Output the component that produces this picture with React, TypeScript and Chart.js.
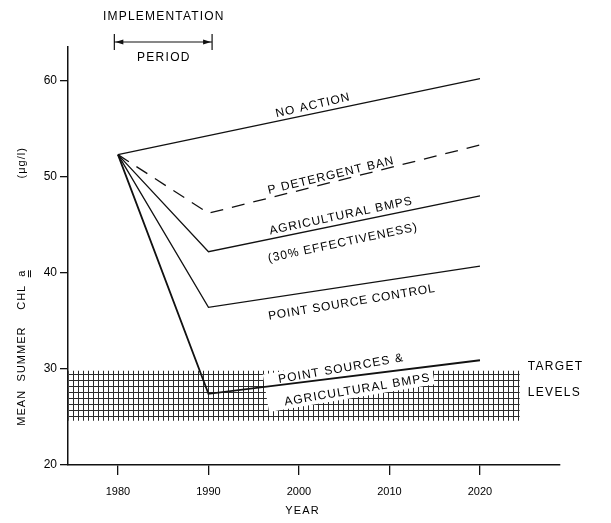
import { useEffect, useRef } from 'react';
import { Chart, registerables } from 'chart.js';

Chart.register(...registerables);

// ---- data ----
const xTicks = [1980, 1990, 2000, 2010, 2020];
const yTicks = [20, 30, 40, 50, 60];
const scenarioYears = [1980, 1990, 2020];
const noActionYears = [1980, 2020];
const noAction = [52.3, 60.2];
const detergentBan = [52.3, 46.2, 53.3];
const agriculturalBmps = [52.3, 42.2, 48.0];
const pointSourceControl = [52.3, 36.4, 40.7];
const pointSourcesAndBmps = [52.3, 27.4, 30.9];
const targetYears = [1974.5, 2024.4];
const targetHigh = [29.8, 29.8];
const targetLow = [24.6, 24.6];
const implementationPeriod = [1979.6, 1990.4];

const xMin = 1974.48;
const xMax = 2028.84;
const yMin = 20;
const yMax = 63.5;

const lineLabels = [
  { text: 'NO ACTION', x: 2001.5, y: 57.4, angle: -13, spacing: 1.1 },
  { text: 'P DETERGENT BAN', x: 2003.5, y: 50.1, angle: -13.5, spacing: 1.1 },
  { text: 'AGRICULTURAL BMPS', x: 2004.6, y: 45.9, angle: -12, spacing: 1.0 },
  { text: '(30% EFFECTIVENESS)', x: 2004.8, y: 43.1, angle: -12, spacing: 1.0 },
  { text: 'POINT SOURCE CONTROL', x: 2005.8, y: 36.9, angle: -9.5, spacing: 0.8 },
  { text: 'POINT SOURCES &', x: 2004.6, y: 30.0, angle: -10, spacing: 1.1 },
  { text: 'AGRICULTURAL BMPS', x: 2006.4, y: 27.8, angle: -9.5, spacing: 1.1 },
];

const FONT = '"Liberation Sans", Arial, sans-serif';
const INK = '#111111';
const TEXT = '#000000';

const pts = (xs: number[], ys: number[]) => xs.map((x, i) => ({ x, y: ys[i] }));

function drawText(ctx: CanvasRenderingContext2D, text: string, x: number, y: number, size: number, spacing: number, angle = 0) {
  ctx.save();
  ctx.translate(x, y);
  ctx.rotate((angle * Math.PI) / 180);
  ctx.font = `${size}px ${FONT}`;
  (ctx as any).letterSpacing = `${spacing}px`;
  ctx.fillStyle = TEXT;
  ctx.textAlign = 'center';
  ctx.textBaseline = 'middle';
  ctx.fillText(text, spacing / 2, 0);
  ctx.restore();
}

const annotations = {
  id: 'annotations',
  afterDatasetDraw(chart: any, args: any) {
    if (args.index !== 5) return;
    const { ctx, scales } = chart;
    const a = lineLabels[5];
    const b = lineLabels[6];
    const cx = (scales.x.getPixelForValue(a.x) + scales.x.getPixelForValue(b.x)) / 2;
    const cy = (scales.y.getPixelForValue(a.y) + scales.y.getPixelForValue(b.y)) / 2;
    ctx.save();
    ctx.translate(cx, cy);
    ctx.rotate((-9.5 * Math.PI) / 180);
    ctx.fillStyle = '#ffffff';
    ctx.fillRect(-84, -19, 168, 38);
    ctx.restore();
  },
  afterDatasetsDraw(chart: any) {
    const { ctx, scales } = chart;
    const xs = scales.x;
    const ys = scales.y;
    for (const l of lineLabels) {
      drawText(ctx, l.text, xs.getPixelForValue(l.x), ys.getPixelForValue(l.y), 12, l.spacing, l.angle);
    }
    // target levels
    const tx = xs.getPixelForValue(2024.4) + 8;
    ctx.save();
    ctx.font = `12px ${FONT}`;
    (ctx as any).letterSpacing = '1.3px';
    ctx.fillStyle = TEXT;
    ctx.textAlign = 'left';
    ctx.textBaseline = 'middle';
    ctx.fillText('TARGET', tx, ys.getPixelForValue(30.2));
    ctx.fillText('LEVELS', tx, ys.getPixelForValue(27.5));
    ctx.restore();

    // implementation period arrow
    const x1 = xs.getPixelForValue(implementationPeriod[0]);
    const x2 = xs.getPixelForValue(implementationPeriod[1]);
    const top = chart.chartArea.top;
    const ay = top - 5;
    ctx.save();
    ctx.strokeStyle = INK;
    ctx.fillStyle = INK;
    ctx.lineWidth = 1.2;
    ctx.beginPath();
    ctx.moveTo(x1, ay - 8); ctx.lineTo(x1, ay + 8);
    ctx.moveTo(x2, ay - 8); ctx.lineTo(x2, ay + 8);
    ctx.moveTo(x1, ay); ctx.lineTo(x2, ay);
    ctx.stroke();
    ctx.beginPath();
    ctx.moveTo(x1 + 1, ay); ctx.lineTo(x1 + 9, ay - 2.5); ctx.lineTo(x1 + 9, ay + 2.5); ctx.closePath();
    ctx.moveTo(x2 - 1, ay); ctx.lineTo(x2 - 9, ay - 2.5); ctx.lineTo(x2 - 9, ay + 2.5); ctx.closePath();
    ctx.fill();
    ctx.restore();
    const mid = (x1 + x2) / 2;
    drawText(ctx, 'IMPLEMENTATION', mid, top - 30, 12, 1.2);
    drawText(ctx, 'PERIOD', mid, top + 11, 12, 1.3);

    // axis titles
    drawText(ctx, 'YEAR', xs.getPixelForValue(2000) + 3, chart.height - 4, 11, 1.2);
    const tX = 14;
    const words: [string, number][] = [['MEAN', 25.9], ['SUMMER', 31.5], ['CHL', 37.4], ['a', 39.9], ['(\u03bcg/l)', 51.4]];
    for (const [w, v] of words) {
      drawText(ctx, w, tX, ys.getPixelForValue(v), 11, 1, -90);
    }
    // underline the "a"
    const ay2 = ys.getPixelForValue(39.9);
    ctx.save();
    ctx.strokeStyle = INK;
    ctx.lineWidth = 1;
    ctx.beginPath();
    ctx.moveTo(tX + 6.5, ay2 - 3.5);
    ctx.lineTo(tX + 6.5, ay2 + 3.5);
    ctx.moveTo(tX + 8.5, ay2 - 3.5);
    ctx.lineTo(tX + 8.5, ay2 + 3.5);
    ctx.stroke();
    ctx.restore();
  },
};

export default function App() {
  const ref = useRef<HTMLCanvasElement>(null);
  useEffect(() => {
    const canvas = ref.current!;
    const ctx = canvas.getContext('2d')!;
    const tile = document.createElement('canvas');
    tile.width = 5;
    tile.height = 6;
    const t = tile.getContext('2d')!;
    t.fillStyle = '#ffffff';
    t.fillRect(0, 0, 5, 6);
    t.fillStyle = '#2a2a2a';
    t.fillRect(0, 0, 5, 1);
    t.fillRect(0, 0, 1, 6);
    const pattern = ctx.createPattern(tile, 'repeat')!;

    const lineStyle = { borderColor: INK, borderWidth: 1.3, pointRadius: 0, fill: false, tension: 0 };
    const chart = new Chart(canvas, {
      type: 'line',
      data: {
        datasets: [
          { label: 'No action', data: pts(noActionYears, noAction), ...lineStyle },
          { label: 'P detergent ban', data: pts(scenarioYears, detergentBan), ...lineStyle, borderDash: [13, 9] },
          { label: 'Agricultural BMPs', data: pts(scenarioYears, agriculturalBmps), ...lineStyle },
          { label: 'Point source control', data: pts(scenarioYears, pointSourceControl), ...lineStyle },
          { label: 'Point sources & agricultural BMPs', data: pts(scenarioYears, pointSourcesAndBmps), ...lineStyle, borderWidth: 1.8 },
          { label: 'Target high', data: pts(targetYears, targetHigh), borderWidth: 0, pointRadius: 0, backgroundColor: pattern, fill: '+1' },
          { label: 'Target low', data: pts(targetYears, targetLow), borderWidth: 0, pointRadius: 0, fill: false },
        ] as any,
      },
      options: {
        animation: false,
        responsive: true,
        maintainAspectRatio: false,
        layout: { padding: { top: 39, right: 43, left: 0, bottom: 0 } },
        plugins: { legend: { display: false }, tooltip: { enabled: false } },
        scales: {
          x: {
            type: 'linear',
            min: xMin,
            max: xMax,
            afterBuildTicks: (s: any) => { s.ticks = xTicks.map((v) => ({ value: v })); },
            afterFit: (s: any) => { s.height = 50; },
            grid: { drawOnChartArea: false, color: INK, lineWidth: 1.3, tickLength: 10 },
            border: { color: INK, width: 1.5 },
            ticks: { color: TEXT, font: { family: FONT, size: 11 }, padding: 10, maxRotation: 0, autoSkip: false, callback: (v: any) => String(v) },
          },
          y: {
            type: 'linear',
            min: yMin,
            max: yMax,
            afterBuildTicks: (s: any) => { s.ticks = yTicks.map((v) => ({ value: v })); },
            afterFit: (s: any) => { s.width = 60; },
            grid: { drawOnChartArea: false, color: INK, lineWidth: 1.3, tickLength: 8 },
            border: { color: INK, width: 1.5 },
            ticks: { color: TEXT, font: { family: FONT, size: 12 }, padding: 3, autoSkip: false },
          },
        },
      } as any,
      plugins: [annotations],
    });
    return () => chart.destroy();
  }, []);
  return (
    <div style={{ width: 595, height: 507 }}>
      <canvas ref={ref} />
    </div>
  );
}
